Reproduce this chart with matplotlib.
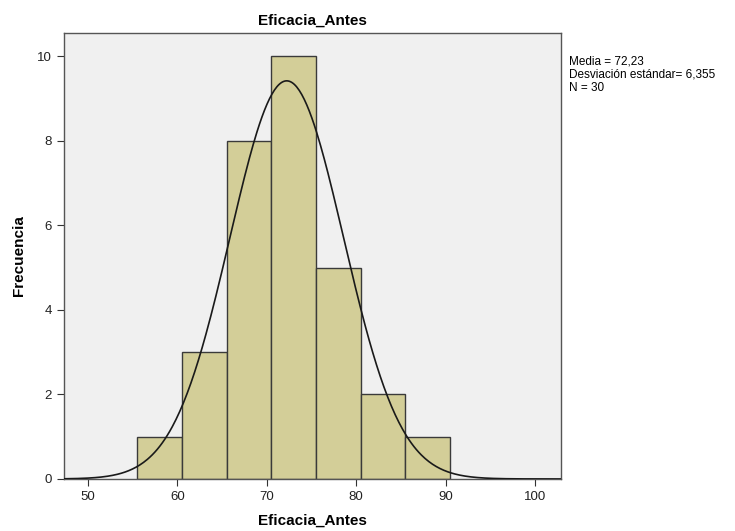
import numpy as np
import matplotlib
matplotlib.use('Agg')
import matplotlib.pyplot as plt

# bin edges and counts
bin_edges = [55.5, 60.5, 65.5, 70.5, 75.5, 80.5, 85.5, 90.5]
counts = [1, 3, 8, 10, 5, 2, 1]
media = 72.23
desv = 6.355
n = 30
x_ticks = [50, 60, 70, 80, 90, 100]
y_ticks = [0, 2, 4, 6, 8, 10]

plt.rcParams['font.family'] = ['Liberation Sans', 'DejaVu Sans']

fig = plt.figure(figsize=(7.35, 5.31), dpi=100)
ax = fig.add_axes([0.087, 0.098, 0.676, 0.840])
ax.set_facecolor('#f0f0f0')

widths = np.diff(bin_edges)
ax.bar(bin_edges[:-1], counts, width=widths, align='edge',
       color='#d3ce98', edgecolor='#3a3a3a', linewidth=1.0, zorder=2)

# normal curve scaled to counts
bw = widths[0]
xs = np.linspace(47.3, 102.9, 400)
ys = n * bw / (desv * np.sqrt(2 * np.pi)) * np.exp(-0.5 * ((xs - media) / desv) ** 2)
ax.plot(xs, ys, color='#1a1a1a', linewidth=1.2, zorder=3)

ax.set_xlim(47.3, 102.9)
ax.set_ylim(0, 10.55)
ax.set_xticks(x_ticks)
ax.set_yticks(y_ticks)
ax.tick_params(labelsize=9.5, length=5, color='#333333', labelcolor='#222222')
for s in ax.spines.values():
    s.set_color('#555555')
    s.set_linewidth(1.0)

ax.set_title('Eficacia_Antes', fontsize=11, fontweight='bold', pad=6)
ax.set_xlabel('Eficacia_Antes', fontsize=11, fontweight='bold', labelpad=8)
ax.set_ylabel('Frecuencia', fontsize=11, fontweight='bold', labelpad=8)

fig.text(0.774, 0.895, 'Media = %s\nDesviación estándar= %s\nN = %d'
         % (str(media).replace('.', ','), str(desv).replace('.', ','), n),
         fontsize=8.5, va='top', ha='left', linespacing=1.1)

fig.savefig('out.png', dpi=100)
